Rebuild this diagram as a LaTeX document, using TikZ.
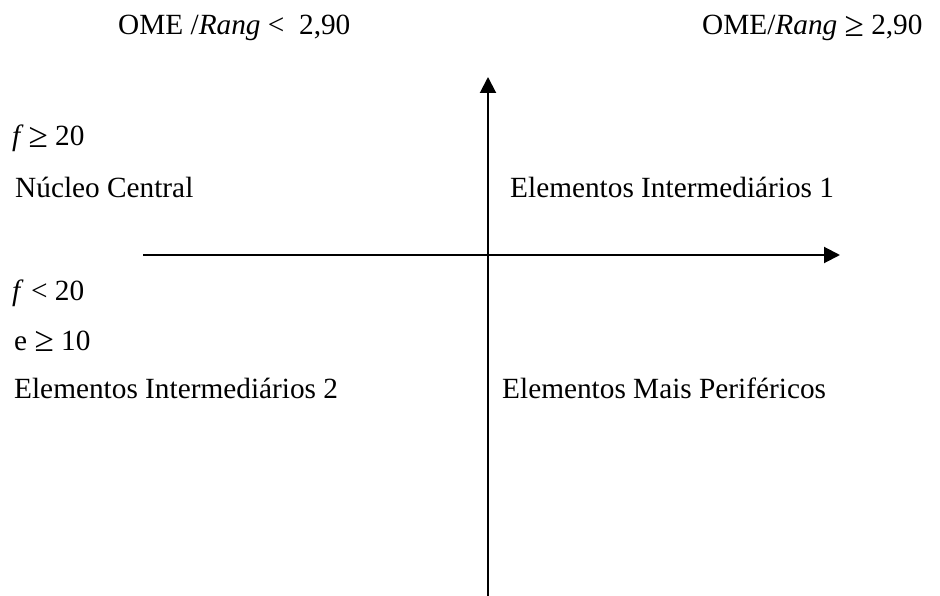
\documentclass[tikz,border=0pt]{standalone}
\usepackage{fontspec}
\setmainfont{Liberation Serif}
\usetikzlibrary{arrows.meta}
\newcommand{\mygeq}{\raisebox{-0.05em}{\scalebox{1.2}{≥}}}
\begin{document}
\begin{tikzpicture}[x=1pt,y=-1pt,
  lbl/.style={anchor=base west,inner sep=0pt,font=\fontsize{29.3}{35}\selectfont},
  axis/.style={line width=2pt,-{Triangle[length=16pt,width=16pt]}}]
\useasboundingbox (0,0) rectangle (940,596);
\node[lbl] (t1) at (118,35) {OME /\textit{Rang} <\ \ 2,90};
\node[lbl] (t2) at (702,35) {OME/\textit{Rang} \mygeq\ 2,90};
\node[lbl] (f1) at (12,146) {\textit{f}\,\mygeq\ 20};
\node[lbl] (nc) at (15,198) {Núcleo Central};
\node[lbl] (ei1) at (510,198) {Elementos Intermediários 1};
\node[lbl] (f2) at (12,300) {\textit{f} < 20};
\node[lbl] (e1) at (14,350) {e \mygeq\ 10};
\node[lbl] (ei2) at (14,398) {Elementos Intermediários 2};
\node[lbl] (mp) at (502,398) {Elementos Mais Periféricos};
\coordinate (vb) at (488,596);
\coordinate (vt) at (488,77);
\coordinate (hl) at (143,255);
\coordinate (hr) at (840,255);
\draw[axis] (vb) -- (vt);
\draw[axis] (hl) -- (hr);
\end{tikzpicture}
\end{document}
